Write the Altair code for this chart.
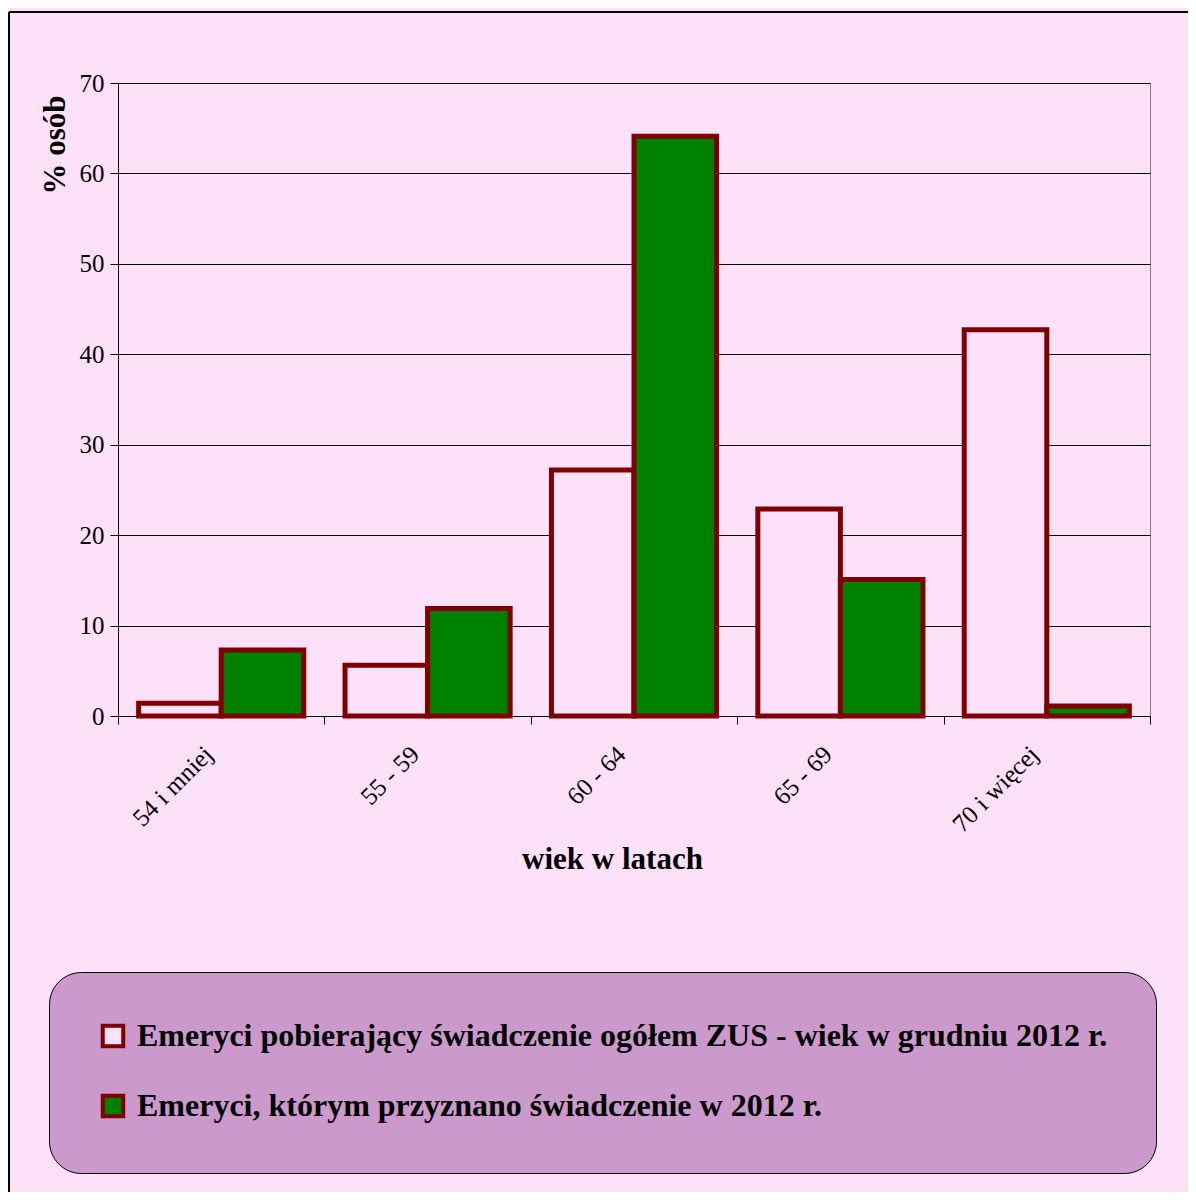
import altair as alt
import pandas as pd

categories = ["54 i mniej", "55 - 59", "60 - 64", "65 - 69", "70 i więcej"]
series_names = [
    "Emeryci pobierający świadczenie ogółem ZUS - wiek w grudniu 2012 r.",
    "Emeryci, którym przyznano świadczenie w 2012 r.",
]
ogolem = [1.4, 5.6, 27.2, 22.9, 42.7]
przyznane = [7.3, 11.9, 64.1, 15.1, 1.1]
y_ticks = [0, 10, 20, 30, 40, 50, 60, 70]

rows = []
for c, a, b in zip(categories, ogolem, przyznane):
    rows.append({"wiek": c, "seria": series_names[0], "val": a})
    rows.append({"wiek": c, "seria": series_names[1], "val": b})
df = pd.DataFrame(rows)

BG = "#FDE1F9"
FONT = "Liberation Serif"

bars = alt.Chart(df).mark_bar(stroke="#800000", strokeWidth=5).encode(
    x=alt.X(
        "wiek:N",
        sort=categories,
        scale=alt.Scale(paddingInner=0, paddingOuter=0),
        axis=alt.Axis(
            title="wiek w latach",
            titleFont=FONT, titleFontSize=31, titleFontWeight="bold", titleColor="black",
            titlePadding=8, titleX=494, titleAlign="center",
            labelFont=FONT, labelFontSize=25, labelColor="black",
            labelAngle=-45, labelAlign="right", labelBaseline="middle", labelPadding=26,
            labelOffset=-13,
            tickBand="extent", tickSize=8, tickColor="black",
            domainColor="black", grid=False,
        ),
    ),
    xOffset=alt.XOffset(
        "seria:N", sort=series_names,
        scale=alt.Scale(paddingInner=0, paddingOuter=0.25),
    ),
    y=alt.Y(
        "val:Q",
        scale=alt.Scale(domain=[0, 70], nice=False),
        axis=alt.Axis(
            values=y_ticks,
            title="% osób",
            titleFont=FONT, titleFontSize=31, titleFontWeight="bold", titleColor="black",
            titlePadding=8, titleAlign="right", titleY=12,
            labelFont=FONT, labelFontSize=25, labelColor="black", labelPadding=6,
            tickSize=8, tickColor="black", domainColor="black",
            grid=True, gridColor="black", gridWidth=1, gridOpacity=1,
        ),
    ),
    fill=alt.Fill(
        "seria:N",
        sort=series_names,
        scale=alt.Scale(domain=series_names, range=[BG, "#008000"]),
        legend=alt.Legend(
            title=None,
            orient="none", legendX=-69, legendY=889,
            fillColor="#CC99CC", strokeColor="black", cornerRadius=32,
            padding=48, rowPadding=32,
            labelFont=FONT, labelFontSize=32, labelFontWeight="bold", labelColor="black",
            labelLimit=2000, labelOffset=8,
            symbolType="square", symbolSize=420, symbolStrokeColor="#800000",
            symbolStrokeWidth=4, symbolOpacity=1,
        ),
    ),
)

frame = alt.Data(values=[{"k": 1}])
left_border = alt.Chart(frame).mark_rule(color="black", strokeWidth=2).encode(
    x=alt.value(-109), y=alt.value(-71), y2=alt.value(1120)
)
top_border = alt.Chart(frame).mark_rule(color="black", strokeWidth=2).encode(
    x=alt.value(-109), x2=alt.value(1080), y=alt.value(-71)
)

chart = alt.layer(bars, left_border, top_border).properties(
    width=1032,
    height=633,
    background=BG,
    padding={"left": 110, "top": 75, "right": 38, "bottom": 476},
    autosize=alt.AutoSizeParams(type="none"),
).configure_view(stroke="#808080", strokeWidth=1)

chart.save("out.html", embed_options={"renderer": "svg", "actions": False})
